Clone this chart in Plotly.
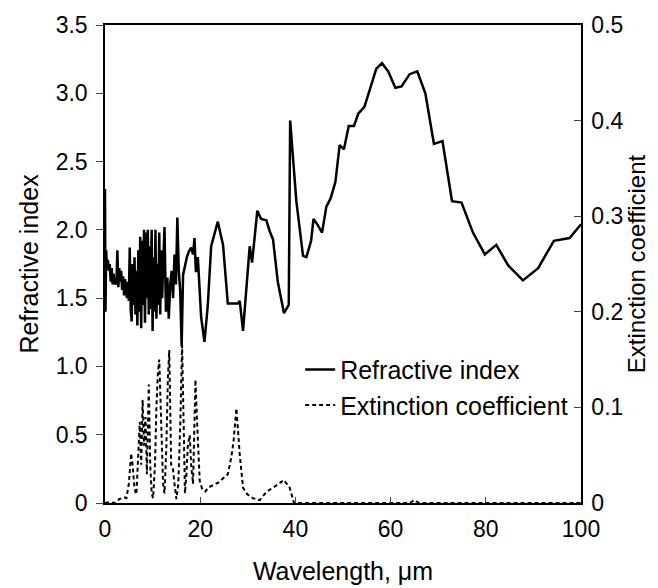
import plotly.graph_objects as go

# Refractive index (left axis)
wl_n = [0, 0.1, 0.25, 0.4, 0.6, 0.8, 1.0, 1.2, 1.4, 1.6, 1.8, 2.0, 2.2, 2.4, 2.6, 2.8,
        3.0, 3.2, 3.4, 3.6, 3.8, 4.0, 4.2, 4.4, 4.6, 4.8, 5.0, 5.2, 5.4, 5.6, 5.8, 6.0,
        6.2, 6.4, 6.6, 6.8, 7.0, 7.2, 7.4, 7.6, 7.8, 8.0, 8.2, 8.4, 8.6, 8.8, 9.0, 9.2,
        9.4, 9.6, 9.8, 10.0, 10.2, 10.4, 10.6, 10.8, 11.0, 11.2, 11.4, 11.6, 11.8, 12.0,
        12.2, 12.5, 12.8, 13.1, 13.4, 13.7, 14.0, 14.3, 14.6, 14.9, 15.2, 15.5, 15.8,
        16.1, 16.4, 16.8, 17.2, 17.6, 18.1, 18.5, 18.8, 19.1, 19.5, 20.2, 20.9, 21.6,
        22.3, 23.7, 24.8, 25.8, 27.9, 28.3, 29.0, 30.4, 30.9, 32.0, 32.8, 33.9, 34.6,
        35.3, 36.3, 37.6, 38.6, 38.9, 39.2, 40.2, 41.6, 42.3, 43.3, 43.8, 44.6, 45.6,
        46.5, 47.4, 48.4, 49.3, 50.2, 51.2, 52.3, 53.2, 54.5, 55.6, 57.0, 58.2, 59.5,
        61.0, 62.3, 64.0, 65.6, 67.3, 69.1, 70.9, 72.9, 74.9, 77.3, 79.8, 82.2, 84.7,
        87.8, 91.0, 94.3, 97.6, 100]
refr_index = [2.3, 1.4, 1.85, 1.72, 1.78, 1.7, 1.75, 1.62, 1.72, 1.6, 1.68, 1.6, 1.62, 1.6, 1.85, 1.58,
              1.72, 1.62, 1.7, 1.56, 1.66, 1.52, 1.64, 1.58, 1.5, 1.62, 1.48, 1.87, 1.42, 1.33, 1.75, 1.45,
              1.8, 1.38, 1.7, 1.3, 1.85, 1.4, 1.95, 1.28, 1.92, 1.45, 2.0, 1.32, 1.98, 1.5, 2.0, 1.38,
              1.88, 1.42, 2.0, 1.26, 1.8, 1.4, 2.0, 1.35, 1.75, 1.45, 1.98, 1.38, 1.85, 1.5,
              1.72, 2.02, 1.4, 1.65, 1.35, 1.6, 1.7, 1.5, 1.82, 1.6, 2.09, 1.7, 1.55,
              1.15, 1.67, 1.75, 1.8, 1.84, 1.87, 1.82, 1.94, 1.69, 1.8, 1.36, 1.18, 1.45,
              1.88, 2.06, 1.89, 1.46, 1.46, 1.48, 1.26, 1.88, 1.76, 2.14, 2.08, 2.07, 1.99,
              1.93, 1.62, 1.39, 1.45, 2.8, 2.65, 2.21, 1.81, 1.80, 1.92, 2.08, 2.04, 1.98,
              2.17, 2.23, 2.35, 2.62, 2.59, 2.76, 2.76, 2.85, 2.90, 3.03, 3.18, 3.22, 3.16,
              3.04, 3.05, 3.14, 3.16, 3.00, 2.63, 2.65, 2.21, 2.20, 1.98, 1.82, 1.89, 1.74,
              1.63, 1.72, 1.92, 1.94, 2.04]

# Extinction coefficient (right axis)
wl_k = [0, 1, 2, 3, 4, 4.5, 5.0, 5.5, 5.8, 6.2, 6.6, 7.0, 7.3, 7.6, 7.9, 8.2, 8.5, 8.8,
        9.2, 9.5, 9.8, 10.1, 10.5, 10.8, 11.1, 11.4, 11.8, 12.2, 12.5, 12.9, 13.2, 13.5,
        13.9, 14.3, 14.6, 15.0, 15.4, 15.8, 16.2, 16.5, 16.8, 17.1, 17.4, 17.8, 18.1,
        18.5, 18.8, 19.0, 19.3, 19.9, 20.4, 21.1, 21.6, 23.0, 23.7, 25.8, 26.5, 27.0,
        27.6, 28.3, 29.0, 29.9, 31.1, 32.5, 34.0, 35.6, 37.6, 38.8, 39.7, 45, 55, 64,
        65, 66, 70, 80, 90, 100]
ext_coef = [0.0, 0.001, 0.0, 0.004, 0.006, 0.005, 0.02, 0.052, 0.04, 0.015, 0.009, 0.06, 0.085, 0.04, 0.108, 0.06, 0.09, 0.03,
            0.124, 0.04, 0.01, 0.005, 0.04, 0.1, 0.135, 0.15, 0.08, 0.02, 0.01, 0.06, 0.13, 0.16,
            0.04, 0.035, 0.02, 0.004, 0.02, 0.08, 0.165, 0.06, 0.01, 0.03, 0.06, 0.071, 0.04,
            0.02, 0.1, 0.129, 0.09, 0.023, 0.015, 0.012, 0.016, 0.019, 0.021, 0.03, 0.047, 0.064,
            0.099, 0.051, 0.016, 0.009, 0.005, 0.003, 0.012, 0.017, 0.024, 0.016, 0.0, 0.0, 0.0, 0.0,
            0.003, 0.0, 0.0, 0.0, 0.0, 0.0]

x_ticks = [0, 20, 40, 60, 80, 100]
y_ticks = [0, 0.5, 1.0, 1.5, 2.0, 2.5, 3.0, 3.5]
y_ticktext = ["0", "0.5", "1.0", "1.5", "2.0", "2.5", "3.0", "3.5"]
y2_ticks = [0, 0.1, 0.2, 0.3, 0.4, 0.5]
y2_ticktext = ["0", "0.1", "0.2", "0.3", "0.4", "0.5"]

FONT = "Liberation Sans, Arial, sans-serif"

fig = go.Figure()
fig.add_trace(go.Scatter(x=wl_n, y=refr_index, mode="lines", name="Refractive index",
                         line=dict(color="black", width=2.5)))
fig.add_trace(go.Scatter(x=wl_k, y=ext_coef, mode="lines", name="Extinction coefficient",
                         yaxis="y2", line=dict(color="black", width=2, dash="4px,3px")))

fig.update_layout(
    template="none",
    width=658, height=588,
    margin=dict(l=97, r=85, t=17, b=93, autoexpand=False),
    paper_bgcolor="white", plot_bgcolor="white",
    font=dict(family=FONT, size=23, color="black"),
    showlegend=True,
    legend=dict(x=0.41, y=0.327, xanchor="left", yanchor="top",
                bgcolor="rgba(0,0,0,0)", font=dict(size=25), tracegroupgap=0),
    xaxis=dict(range=[0, 100], tickvals=x_ticks, ticks="inside", ticklen=6,
               showline=True, linecolor="black", linewidth=1.5, mirror=True,
               showgrid=False, zeroline=False, ticklabelstandoff=5, automargin=False,
               title=dict(text="Wavelength, \u03bcm", standoff=21, font=dict(size=25))),
    yaxis=dict(range=[0, 3.5], tickvals=y_ticks, ticktext=y_ticktext, ticks="outside",
               ticklen=7, showline=True, linecolor="black", linewidth=1.5,
               showgrid=False, zeroline=False, ticklabelstandoff=4, automargin=False,
               title=dict(text="Refractive index", standoff=10, font=dict(size=25))),
    yaxis2=dict(range=[0, 0.5], tickvals=y2_ticks, ticktext=y2_ticktext, ticks="inside",
                ticklen=7, overlaying="y", side="right", showline=True, linecolor="black",
                linewidth=1.5, showgrid=False, zeroline=False, ticklabelstandoff=4,
                automargin=False,
                title=dict(text="Extinction coefficient", standoff=6, font=dict(size=24))),
)

fig.write_html("out.html")
